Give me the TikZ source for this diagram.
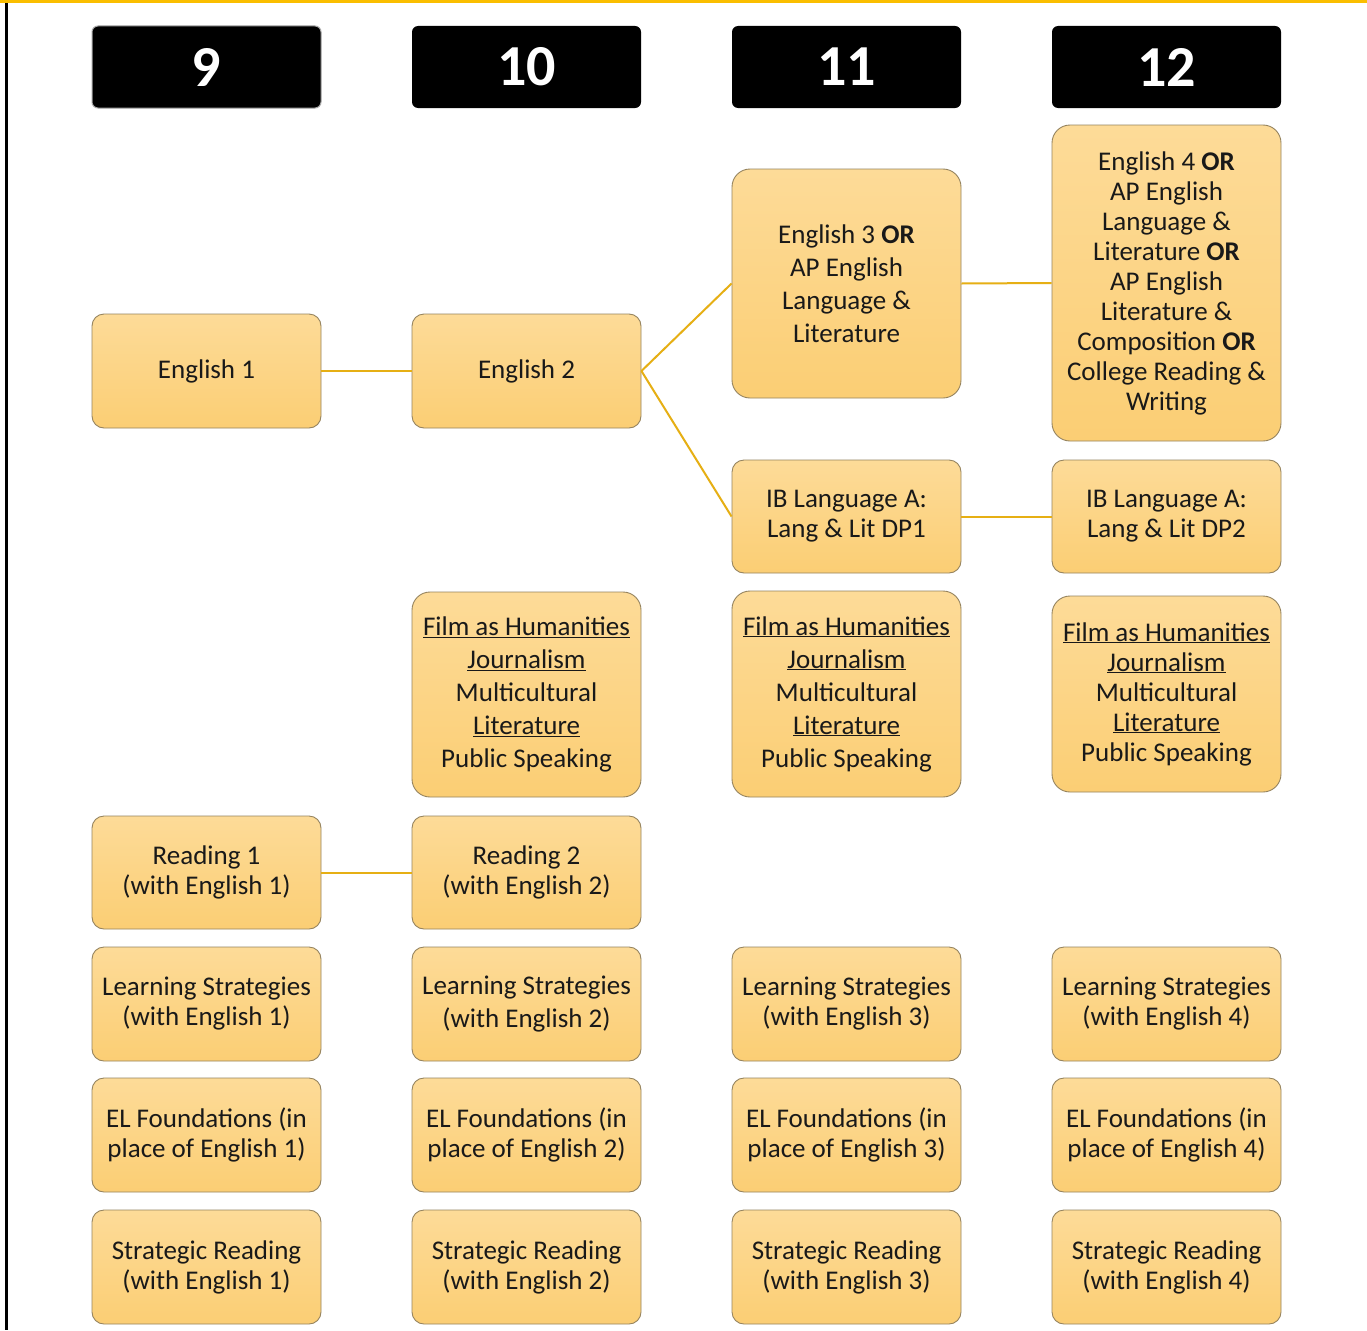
\documentclass[tikz,border=0pt]{standalone}
\usepackage{fontspec}
\setmainfont{Carlito}
\definecolor{fillTop}{RGB}{253,219,152}
\definecolor{fillBot}{RGB}{251,206,116}
\definecolor{boxline}{RGB}{150,132,95}
\definecolor{conncol}{RGB}{230,175,20}
\definecolor{framegold}{RGB}{250,190,0}
\begin{document}
\begin{tikzpicture}[x=1pt,y=1pt,
  box/.style={draw=boxline, line width=0.9pt, rounded corners=12pt, top color=fillTop, bottom color=fillBot,
    align=center, text=black!90, minimum width=229pt, inner sep=0pt, font=\fontsize{27}{30}\selectfont},
  tallbox/.style={box, rounded corners=18pt},
  wide/.style={font=\fontsize{27}{33}\selectfont},
  hdr/.style={fill=black, rounded corners=6pt, minimum width=229pt, minimum height=82pt, inner sep=0pt,
    text=white, font=\fontsize{58}{60}\bfseries\selectfont},
  conn/.style={draw=conncol, line width=2pt}]
\useasboundingbox (0,0) rectangle (1367,-1330);
\fill[white] (0,0) rectangle (1367,-1330);
\fill[framegold] (0,0) rectangle (1367,-3);
\fill[black] (5,-3) rectangle (7.5,-1330);

% headers
\node[hdr, draw=gray!70, line width=1pt] (h9) at (206.5,-67) {9};
\node[hdr] (h10) at (526.5,-67) {10};
\node[hdr] (h11) at (846.5,-67) {11};
\node[hdr] (h12) at (1166.5,-67) {12};

% main track
\node[box, minimum height=114pt] (e1) at (206.5,-371) {English 1};
\node[box, minimum height=114pt] (e2) at (526.5,-371) {English 2};
\node[tallbox, wide, minimum height=229pt] (e3) at (846.5,-283.5) {English 3 \textbf{OR}\\AP English\\Language \&\\Literature};
\node[tallbox, minimum height=316pt] (e4) at (1166.5,-283) {English 4 \textbf{OR}\\AP English\\Language \&\\Literature \textbf{OR}\\AP English\\Literature \&\\Composition \textbf{OR}\\College Reading \&\\Writing};
\node[box, minimum height=113pt] (ib1) at (846.5,-516.5) {IB Language A:\\Lang \& Lit DP1};
\node[box, minimum height=113pt] (ib2) at (1166.5,-516.5) {IB Language A:\\Lang \& Lit DP2};

% electives
\node[tallbox, wide, minimum height=205pt] (f10) at (526.5,-694.5) {\underline{Film as Humanities}\\\underline{Journalism}\\Multicultural\\\underline{Literature}\\Public Speaking};
\node[tallbox, wide, minimum height=206pt] (f11) at (846.5,-694) {\underline{Film as Humanities}\\\underline{Journalism}\\Multicultural\\\underline{Literature}\\Public Speaking};
\node[tallbox, minimum height=196pt] (f12) at (1166.5,-694) {\underline{Film as Humanities}\\\underline{Journalism}\\Multicultural\\\underline{Literature}\\Public Speaking};

% reading
\node[box, minimum height=113pt] (r1) at (206.5,-872.5) {Reading 1\\(with English 1)};
\node[box, minimum height=113pt] (r2) at (526.5,-872.5) {Reading 2\\(with English 2)};

% learning strategies
\node[box, minimum height=114pt] (l1) at (206.5,-1004) {Learning Strategies\\(with English 1)};
\node[box, wide, minimum height=114pt] (l2) at (526.5,-1004) {Learning Strategies\\(with English 2)};
\node[box, minimum height=114pt] (l3) at (846.5,-1004) {Learning Strategies\\(with English 3)};
\node[box, minimum height=114pt] (l4) at (1166.5,-1004) {Learning Strategies\\(with English 4)};

% EL foundations
\node[box, minimum height=114pt] (f1) at (206.5,-1135) {EL Foundations (in\\place of English 1)};
\node[box, minimum height=114pt] (fl2) at (526.5,-1135) {EL Foundations (in\\place of English 2)};
\node[box, minimum height=114pt] (fl3) at (846.5,-1135) {EL Foundations (in\\place of English 3)};
\node[box, minimum height=114pt] (fl4) at (1166.5,-1135) {EL Foundations (in\\place of English 4)};

% strategic reading
\node[box, minimum height=114pt] (s1) at (206.5,-1267) {Strategic Reading\\(with English 1)};
\node[box, minimum height=114pt] (s2) at (526.5,-1267) {Strategic Reading\\(with English 2)};
\node[box, minimum height=114pt] (s3) at (846.5,-1267) {Strategic Reading\\(with English 3)};
\node[box, minimum height=114pt] (s4) at (1166.5,-1267) {Strategic Reading\\(with English 4)};

% connectors
\draw[conn] (e1.east) -- (e2.west);
\draw[conn] (e2.east) -- (e3.west);
\draw[conn] (e2.east) -- (ib1.west);
\draw[conn] (e3.east) -- (e4.west);
\draw[conn] (ib1.east) -- (ib2.west);
\draw[conn] (r1.east) -- (r2.west);
\end{tikzpicture}
\end{document}
